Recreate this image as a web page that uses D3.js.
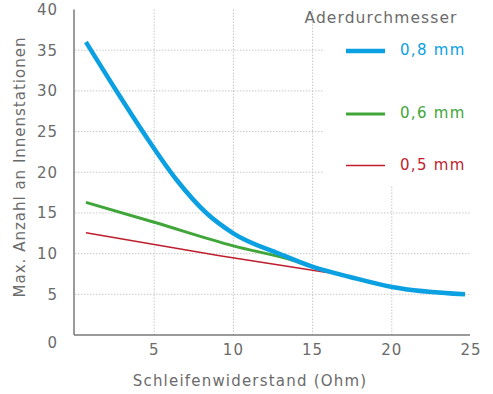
<!DOCTYPE html>
<html>
<head>
<meta charset="utf-8">
<title>Innenstationen</title>
<script src="https://d3js.org/d3.v7.min.js"></script>
<style>
  body { margin: 0; background: #fff; }
  text { font-family: "DejaVu Sans", sans-serif; fill: #6b6b6b; }
</style>
</head>
<body>
<div id="chart"></div>
<script>
// data
var blueX  = [0.69, 2.63, 4.31, 6.42, 8.31, 9.99, 12.94, 15.03, 17.36, 20.01, 24.62];
var blueY  = [36.0, 29.95, 24.9, 19.05, 14.96, 12.5, 9.95, 8.36, 7.13, 5.9, 5.0];
var greenX = [0.69, 5.0, 9.99, 13.8, 15.03, 17.36, 20.01, 24.62];
var greenY = [16.3, 13.85, 10.95, 9.15, 8.36, 7.13, 5.9, 5.0];
var redX   = [0.69, 9.14, 15.0, 16.5, 17.36, 20.01, 24.62];
var redY   = [12.57, 9.75, 7.95, 7.5, 7.13, 5.9, 5.0];

var xTicks = [5, 10, 15, 20, 25];
var yTicks = [0, 5, 10, 15, 20, 25, 30, 35, 40];
var legendLabels = ["0,8 mm", "0,6 mm", "0,5 mm"];
var colors = ["#0aa0e2", "#40a63a", "#be1e2d"];
var widths = [4.5, 3, 1.5];

var width = 493, height = 394;

var svg = d3.select("#chart").append("svg")
    .attr("width", width)
    .attr("height", height);

var x = d3.scaleLinear().domain([0, 25]).range([75, 471]);
var y = d3.scaleLinear().domain([0, 40]).range([335, 9.5]);

// grid
var grid = svg.append("g")
    .attr("stroke", "#c8c8c8")
    .attr("stroke-width", 1)
    .attr("stroke-dasharray", "1.5,1.5");

grid.selectAll(".vg")
  .data([5, 10, 15, 20])
  .enter().append("line")
    .attr("x1", function(d) { return x(d); })
    .attr("x2", function(d) { return x(d); })
    .attr("y1", y(40))
    .attr("y2", y(0));

grid.selectAll(".hg")
  .data([5, 10, 15, 20, 25, 30, 35])
  .enter().append("line")
    .attr("x1", x(0))
    .attr("x2", x(25))
    .attr("y1", function(d) { return y(d); })
    .attr("y2", function(d) { return y(d); });

// legend background hides the grid behind it
svg.append("rect")
    .attr("x", 323).attr("y", 0)
    .attr("width", 170).attr("height", 185)
    .attr("fill", "#fff");

// axes
svg.append("line")
    .attr("x1", x(0) - 1).attr("x2", x(0) - 1)
    .attr("y1", y(40)).attr("y2", y(0))
    .attr("stroke", "#7a7a7a").attr("stroke-width", 1.5);
svg.append("line")
    .attr("x1", x(0) - 1).attr("x2", x(25) - 1)
    .attr("y1", y(0)).attr("y2", y(0))
    .attr("stroke", "#7a7a7a").attr("stroke-width", 1.5);

svg.selectAll(".yl")
  .data(yTicks)
  .enter().append("text")
    .attr("x", 58)
    .attr("y", function(d) { return y(d) + (d === 0 ? 8 : 0); })
    .attr("dy", "0.36em")
    .attr("text-anchor", "end")
    .style("font-size", "15px")
    .style("letter-spacing", "1px")
    .text(function(d) { return d; });

svg.selectAll(".xl")
  .data(xTicks)
  .enter().append("text")
    .attr("x", function(d) { return x(d); })
    .attr("y", 350)
    .attr("dy", "0.36em")
    .attr("text-anchor", "middle")
    .style("font-size", "15px")
    .style("letter-spacing", "1px")
    .text(function(d) { return d; });

svg.append("text")
    .attr("x", 250).attr("y", 381)
    .attr("dy", "0.36em")
    .attr("text-anchor", "middle")
    .style("font-size", "15px")
    .style("letter-spacing", "1.2px")
    .text("Schleifenwiderstand (Ohm)");

svg.append("text")
    .attr("transform", "translate(20,167) rotate(-90)")
    .attr("dy", "0.36em")
    .attr("text-anchor", "middle")
    .style("font-size", "15px")
    .style("letter-spacing", "1px")
    .text("Max. Anzahl an Innenstationen");

// curves
var line = d3.line()
    .x(function(d) { return x(d[0]); })
    .y(function(d) { return y(d[1]); })
    .curve(d3.curveMonotoneX);

var series = [
  { xs: redX, ys: redY, i: 2 },
  { xs: greenX, ys: greenY, i: 1 },
  { xs: blueX, ys: blueY, i: 0 }
];

series.forEach(function(s) {
  svg.append("path")
      .datum(d3.zip(s.xs, s.ys))
      .attr("fill", "none")
      .attr("stroke", colors[s.i])
      .attr("stroke-width", widths[s.i])
      .attr("d", line);
});

// legend
svg.append("text")
    .attr("x", 381).attr("y", 17)
    .attr("dy", "0.36em")
    .attr("text-anchor", "middle")
    .style("font-size", "15.5px")
    .style("letter-spacing", "1.1px")
    .text("Aderdurchmesser");

var legY = [51, 114, 165.5];
legendLabels.forEach(function(lbl, i) {
  svg.append("line")
      .attr("x1", 346).attr("x2", 385)
      .attr("y1", legY[i]).attr("y2", legY[i])
      .attr("stroke", colors[i])
      .attr("stroke-width", widths[i]);
  svg.append("text")
      .attr("x", 400).attr("y", legY[i] - 1)
      .attr("dy", "0.36em")
      .style("font-size", "15px")
      .style("letter-spacing", "1.3px")
      .style("fill", colors[i])
      .text(lbl);
});
</script>
</body>
</html>
